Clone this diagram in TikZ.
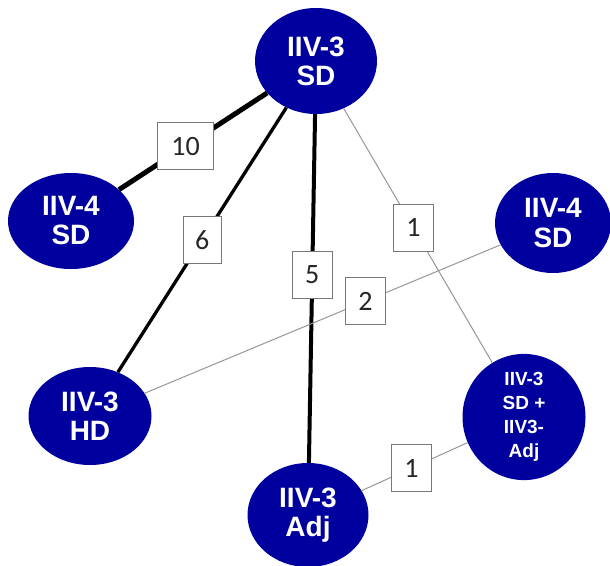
\documentclass[tikz,border=0pt]{standalone}
\usepackage{fontspec}
\setmainfont{Liberation Sans}
\newfontfamily\numfont{Carlito}
\usetikzlibrary{shapes.geometric}
\definecolor{nodeblue}{RGB}{0,0,158}
\definecolor{thingray}{RGB}{150,150,150}
\definecolor{boxgray}{RGB}{120,120,120}
\tikzset{
  isolate/.style={ellipse, fill=nodeblue, text=white, inner sep=0pt, align=center,
    font=\fontsize{28}{29}\selectfont\bfseries},
  smallisolate/.style={isolate, font=\fontsize{19}{24}\selectfont\bfseries},
  weight/.style={draw=boxgray, line width=0.9pt, fill=white, text=black!85, inner sep=0pt,
    minimum width=40pt, minimum height=47pt, font=\numfont\fontsize{28}{29}\selectfont},
  heavy/.style={line width=#1, black},
  light/.style={line width=1pt, thingray},
}
\begin{document}
\begin{tikzpicture}[x=1pt, y=-1pt]
\useasboundingbox (0,0) rectangle (610,565);
\clip (0,0) rectangle (610,565);
% isolates
\node[isolate, minimum width=122pt, minimum height=106pt] (top) at (316,61) {IIV-3\\SD};
\node[isolate, minimum width=126pt, minimum height=96pt] (left) at (71,221) {IIV-4\\SD};
\node[isolate, minimum width=116pt, minimum height=100pt] (right) at (553,223) {IIV-4\\SD};
\node[isolate, minimum width=123pt, minimum height=98pt] (hd) at (90,416) {IIV-3\\HD};
\node[isolate, minimum width=121pt, minimum height=104pt] (adj) at (308,515) {IIV-3\\Adj};
\node[smallisolate, minimum width=123pt, minimum height=105pt] (mix) at (524,417) {IIV-3\\SD +\\IIV3-\\Adj};
% links with their weights
\draw[heavy=5pt] (top) -- node[weight, minimum width=56pt, pos=0.55] (w10) {10} (left);
\draw[heavy=3.3pt] (top) -- node[weight, minimum width=38pt, pos=0.5] (w6) {6} (hd);
\draw[heavy=4pt] (top) -- node[weight, pos=0.46] (w5) {5} (adj);
\draw[light] (top) -- node[weight, pos=0.47] (w1a) {1} (mix);
\draw[light] (right) -- node[weight, pos=0.38] (w2) {2} (hd);
\draw[light] (adj) -- node[weight, pos=0.47] (w1b) {1} (mix);
\end{tikzpicture}
\end{document}
